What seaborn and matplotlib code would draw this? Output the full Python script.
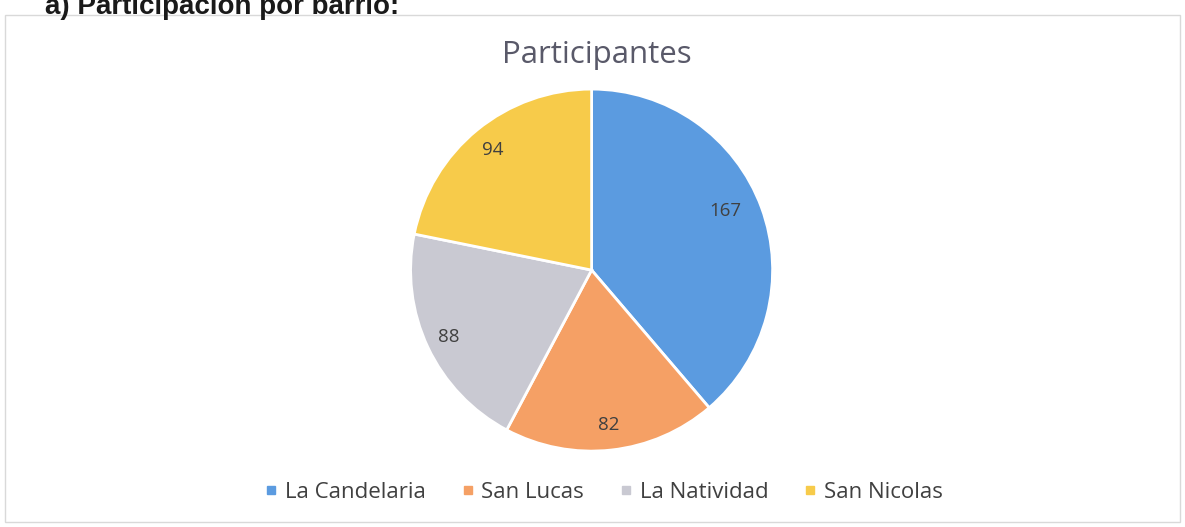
import matplotlib
matplotlib.use("Agg")
import matplotlib.pyplot as plt
import seaborn as sns
import numpy as np
from matplotlib.patches import Rectangle
from matplotlib.lines import Line2D

barrios = ["La Candelaria", "San Lucas", "La Natividad", "San Nicolas"]
participantes = [167, 82, 88, 94]
colores = ["#5B9BE0", "#F5A065", "#C9C9D2", "#F7CB4A"]

sns.set_theme(style="white")
plt.rcParams["font.family"] = ["Open Sans", "DejaVu Sans"]

fig = plt.figure(figsize=(11.85, 5.27), dpi=100)

# marco gris claro del grafico
fig.patches.append(Rectangle((5 / 1185, 5 / 527), 1175 / 1185, 507 / 527,
                             transform=fig.transFigure, fill=False,
                             edgecolor="#d9d9d9", linewidth=1.0))

# encabezado recortado arriba, como en el original
fig.text(45 / 1185, 1 - 14 / 527, "a) Participación por barrio:",
         family=["Liberation Sans", "DejaVu Sans"], fontweight="bold",
         fontsize=20, color="#1a1a1a", va="baseline", ha="left")

ax = fig.add_axes([0.3465, 0.144, 0.3055, 0.687])
wedges, texts = ax.pie(participantes, colors=colores, startangle=90,
                       counterclock=False, labels=[str(v) for v in participantes],
                       labeldistance=0.85,
                       wedgeprops=dict(edgecolor="white", linewidth=2),
                       textprops=dict(fontsize=13.5, color="#404040"))
# distancia y giro de cada etiqueta respecto al centro del sector
dist = [0.81, 0.86, 0.87, 0.86]
giro = [3.5, 0, 0, 0]
for w, t, d, g in zip(wedges, texts, dist, giro):
    ang = np.deg2rad((w.theta1 + w.theta2) / 2 + g)
    t.set_position((d * np.cos(ang), d * np.sin(ang)))
    t.set_ha("center")
    t.set_va("center")
ax.set_xlim(-1.0, 1.0)
ax.set_ylim(-1.0, 1.0)
ax.set_aspect("equal")

fig.text(597 / 1185, 1 - 55 / 527, "Participantes", fontsize=22.5,
         color="#595969", ha="center", va="center")

handles = [Line2D([0], [0], marker="s", linestyle="none", markersize=6,
                  markerfacecolor=c, markeredgecolor=c) for c in colores]
fig.legend(handles, barrios, loc="center", bbox_to_anchor=(0.5085, 1 - 492 / 527),
           ncol=4, frameon=False, fontsize=16, handletextpad=0.2,
           columnspacing=1.5, labelcolor="#404040", handlelength=0.8)

fig.savefig("out.png", dpi=100)
